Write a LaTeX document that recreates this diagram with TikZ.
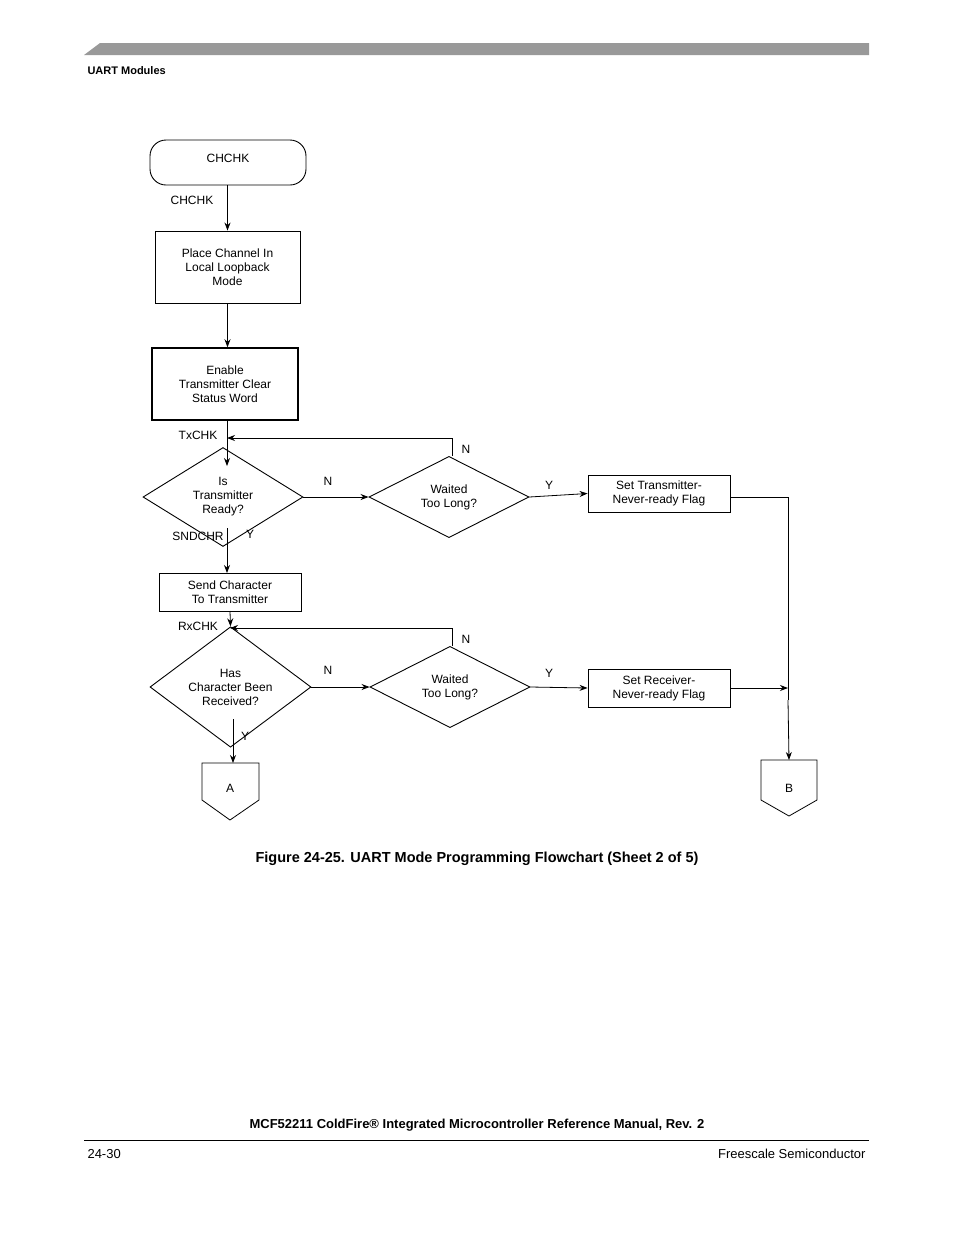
\documentclass[tikz,border=0pt]{standalone}
\usepackage{fontspec}
\setmainfont{Liberation Sans}
\usetikzlibrary{arrows.meta,shapes.geometric,positioning,calc}
\tikzset{
  lbl/.style={font=\fontsize{12}{14}\selectfont},
  box/.style={draw, line width=0.9pt, align=center, font=\fontsize{12}{14}\selectfont, inner sep=0pt},
  dec/.style={draw, diamond, line width=0.9pt, align=center, font=\fontsize{12}{14}\selectfont, inner sep=0pt},
  flow/.style={-{Stealth[length=8pt,width=6pt]}, line width=0.8pt},
  line/.style={line width=0.8pt}
}
\begin{document}
\begin{tikzpicture}[x=1pt,y=-1pt]
\useasboundingbox (0,0) rectangle (954,1235);

% page header
\fill[gray!80] (84,55) -- (100,43) -- (869,43) -- (869,55) -- cycle;
\node[anchor=west, font=\fontsize{11}{13}\selectfont\bfseries] (head) at (84,71) {UART Modules};

% nodes
\node[box, rounded corners=16pt, minimum width=156pt, minimum height=45pt] (start) at (228,162.5) {};
\node[lbl] (starttxt) at (228,158) {CHCHK};
\node[box, minimum width=145pt, minimum height=72pt] (place) at (227.5,267) {Place Channel In\\Local Loopback\\Mode};
\node[box, line width=1.5pt, minimum width=146pt, minimum height=72pt] (enable) at (225,384) {Enable\\Transmitter Clear\\Status Word};
\node[dec, minimum width=160pt, minimum height=62pt] (txrdy) at (223,497) {Is\\Transmitter\\Ready?};
\node[dec, minimum width=160pt, minimum height=62pt] (txwait) at (449,497) {Waited\\Too Long?};
\node[box, minimum width=142pt, minimum height=37pt] (txflag) at (659,493.5) {Set Transmitter-\\Never-ready Flag};
\node[box, minimum width=142pt, minimum height=38pt] (send) at (230,592) {Send Character\\To Transmitter};
\node[dec, minimum width=161pt, minimum height=64pt] (rxrdy) at (230.5,687) {Has\\Character Been\\Received?};
\node[dec, minimum width=160pt, minimum height=62pt] (rxwait) at (450,687) {Waited\\Too Long?};
\node[box, minimum width=142pt, minimum height=38pt] (rxflag) at (659,688) {Set Receiver-\\Never-ready Flag};

% off-page connectors
\draw[line] (202,763) -- (259,763) -- (259,800) -- (230,820) -- (202,800) -- cycle;
\node[lbl] (pa) at (230,788) {A};
\draw[line] (761,760) -- (817,760) -- (817,800) -- (789,816) -- (761,800) -- cycle;
\node[lbl] (pb) at (789,788) {B};
\coordinate (atop) at (233,763);
\coordinate (btop) at (789,760);

% labels
\node[lbl] (l1) at (192,200) {CHCHK};
\node[lbl] (l2) at (198,435) {TxCHK};
\node[lbl] (l3) at (328,481) {N};
\node[lbl] (l4) at (466,449) {N};
\node[lbl] (l5) at (549,485) {Y};
\node[lbl] (l6) at (198,536) {SNDCHR};
\node[lbl] (l7) at (250,534) {Y};
\node[lbl] (l8) at (198,626) {RxCHK};
\node[lbl] (l9) at (328,670) {N};
\node[lbl] (l10) at (466,639) {N};
\node[lbl] (l11) at (549,673) {Y};
\node[lbl] (l12) at (245,736) {Y};

% connectors
\draw[flow] (start.south -| place.north) -- (place.north);
\draw[flow] (place.south) -- (place.south |- enable.north);
\draw[flow] (enable.south -| 227,0) -- (227,466);
\draw[flow] (txwait.north -| 452,0) |- (227,438);
\draw[flow] (txrdy.east) -- (txwait.west);
\draw[flow] (txwait.east) -- (txflag.west);
\draw[line] (txflag.east |- 0,497) -| (788,700);
\draw[flow] (788,700) -- (btop);
\draw[flow] (227,528) -- (227,573);
\draw[flow] (230,611) -- (rxrdy.north);
\draw[flow] (rxwait.north -| 452,0) |- (230,628);
\draw[flow] (rxrdy.east) -- (rxwait.west);
\draw[flow] (rxwait.east) -- (rxflag.west);
\draw[flow] (rxflag.east) -- (788,688);
\draw[flow] (233,719) -- (atop);

% caption and footer
\node[font=\fontsize{14.5}{17}\selectfont\bfseries] (cap) at (477,859) {Figure 24-25. UART Mode Programming Flowchart (Sheet 2 of 5)};
\node[font=\fontsize{13}{15}\selectfont\bfseries] (foot) at (477,1125) {MCF52211 ColdFire® Integrated Microcontroller Reference Manual, Rev. 2};
\draw[line width=0.6pt] (84,1140) -- (869,1140);
\node[anchor=west, font=\fontsize{13}{15}\selectfont] (pg) at (84,1154) {24-30};
\node[anchor=east, font=\fontsize{13}{15}\selectfont] (fs) at (869,1154) {Freescale Semiconductor};
\end{tikzpicture}
\end{document}
